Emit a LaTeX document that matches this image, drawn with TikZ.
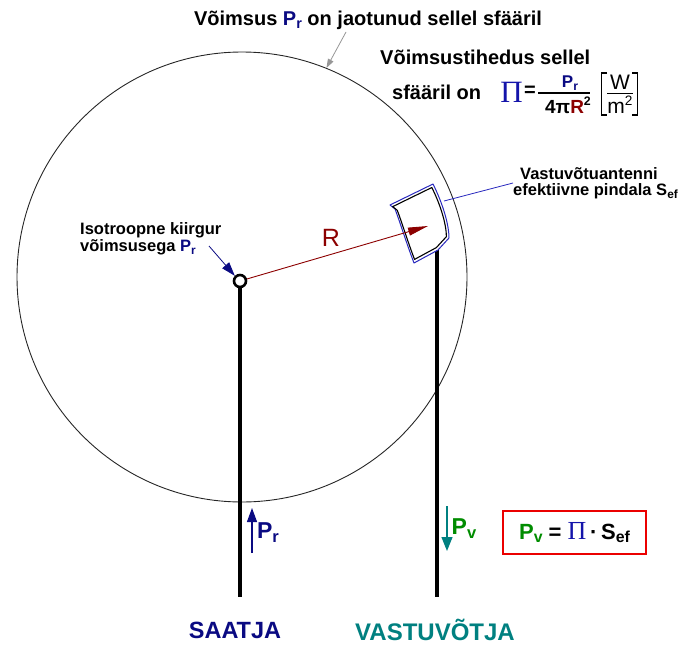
\documentclass[tikz,border=0pt]{standalone}
\usepackage{fontspec}
\usepackage{graphicx}
\setmainfont{Liberation Sans}
\newfontfamily\pifont{Liberation Serif}
\usetikzlibrary{arrows.meta}
\definecolor{navyc}{RGB}{10,10,130}
\definecolor{piblue}{RGB}{20,20,170}
\definecolor{darkredc}{RGB}{140,0,0}
\definecolor{tealc}{RGB}{0,128,128}
\definecolor{greenc}{RGB}{0,140,0}
\definecolor{redc}{RGB}{235,0,0}
\definecolor{greyc}{RGB}{150,150,150}
\definecolor{antblue}{RGB}{40,40,190}
\newcommand\lowix[1]{\raisebox{-0.32ex}{\scalebox{0.72}{#1}}}
\newcommand\highix[1]{\raisebox{0.75ex}{\scalebox{0.65}{#1}}}
\newcommand\fsz[1]{\fontsize{#1}{#1}\selectfont}
\begin{document}
\begin{tikzpicture}[x=1pt,y=-1pt,
  mastline/.style={line width=3.2pt},
  boldlbl/.style={font={\bfseries\fsz{16.5}}, inner sep=0, align=left},
  headtxt/.style={font={\bfseries\fsz{20}}, inner sep=0}
]
\useasboundingbox (0,0) rectangle (694,645);

% sphere
\node[draw=black!85, line width=0.9pt, circle, minimum size=450pt, inner sep=0] (sphere) at (242,277) {};

% title and grey arrow
\node[headtxt] (ttl) at (368,20) {Võimsus {\color{navyc}P\lowix{r}} on jaotunud sellel sfääril};
\coordinate (ttlA) at (346,32);
\draw[greyc, line width=0.8pt, -{Triangle[length=9pt,width=6pt]}] (ttlA) -- (sphere.68);

% receiver mast and antenna
\coordinate (rxtop) at (437,248);
\coordinate (rxbot) at (437,597);
\draw[mastline] (rxtop) -- (rxbot);
\draw[antblue, line width=1pt, line join=round, fill=white] (390,205) -- (433,184) .. controls (443,204) and (449,225) .. (449,238) -- (438,250) -- (414,263) .. controls (406,242) and (400,222) .. (395,209) -- cycle;
\begin{scope}[shift={(420,223)}, scale=0.91, shift={(-420,-223)}]
\draw[black, line width=1.1pt, line join=round] (390,205) -- (433,184) .. controls (443,204) and (449,225) .. (449,238) -- (438,250) -- (414,263) .. controls (406,242) and (400,222) .. (395,209) -- cycle;
\end{scope}

% antenna label
\coordinate (antR) at (444,201);
\node[boldlbl, anchor=west] (antlbl) at (513,183) {\hspace*{7pt}Vastuvõtuantenni\\efektiivne pindala S\lowix{ef}};
\draw[antblue, line width=0.8pt] (antR) -- (antlbl.west);

% transmitter
\coordinate (txbot) at (240,597);
\node[circle, draw, line width=2.6pt, minimum size=12pt, inner sep=0, fill=white] (tx) at (240,281) {};
\draw[mastline] (tx.south) -- (txbot);

% R arrow
\coordinate (rEnd) at (428,226);
\draw[darkredc, line width=0.9pt, -{Triangle[length=20pt,width=8pt]}] (tx) -- (rEnd);
\node[text=darkredc, font=\fsz{25}, inner sep=0] (Rl) at (331,238) {R};

% isotropic label
\node[boldlbl, anchor=west] (isolbl) at (80,239) {Isotroopne kiirgur\\võimsusega {\color{navyc}P\lowix{r}}};
\coordinate (isoA) at (209,246);
\draw[navyc, line width=0.8pt, -{Triangle[length=14pt,width=9pt]}] (isoA) -- (tx.135);

% power density formula
\node[headtxt, anchor=west] (dens1) at (380,57) {Võimsustihedus sellel};
\node[headtxt, anchor=west] (dens2) at (392,92) {sfääril on};
\node[inner sep=0, text=piblue, font={\pifont\fsz{31}}] (Pi1) at (511.5,92) {Π};
\node[headtxt] (eq1) at (530,91) {=};
\node[font={\bfseries\fsz{17}}, inner sep=0, text=navyc] (num) at (570,83) {P\lowix{r}};
\draw[line width=1.4pt] (538,93) -- (590,93);
\node[font={\bfseries\fsz{19}}, inner sep=0] (den) at (568,105.5) {4π{\color{darkredc}R}\highix{2}};
\node[font=\fsz{21}, inner sep=0] (Wn) at (620,82) {W};
\draw[line width=1.3pt] (607,93.5) -- (633,93.5);
\node[font=\fsz{21}, inner sep=0] (mden) at (620,104.5) {m\highix{2}};
\draw[line width=1.8pt] (607,73) -- (601.5,73) -- (601.5,115) -- (607,115);
\draw[line width=1.8pt] (632,73) -- (637.5,73) -- (637.5,115) -- (632,115);

% bottom arrows
\coordinate (prA) at (252,553);
\coordinate (prB) at (252,508);
\draw[navyc, line width=1.2pt, -{Triangle[length=14pt,width=10pt]}] (prA) -- (prB);
\node[font={\bfseries\fsz{23}}, text=navyc, inner sep=0] (prl) at (268,533) {P\lowix{r}};

\coordinate (pvA) at (447,506);
\coordinate (pvB) at (447,551);
\draw[tealc, line width=1.2pt, -{Triangle[length=14pt,width=11pt]}] (pvA) -- (pvB);
\node[font={\bfseries\fsz{23}}, text=greenc, inner sep=0] (pvl) at (464,529) {P\lowix{v}};

% red box
\node[draw=redc, line width=1.8pt, minimum width=143pt, minimum height=43pt, inner sep=0, font={\bfseries\fsz{22}}] (pvbox) at (574.5,532.5) {{\color{greenc}P\lowix{v}} = {\pifont\mdseries\color{piblue}\fsz{26}Π}\,·\,S\lowix{ef}};

% bottom labels
\node[font={\bfseries\fsz{23.5}}, text=navyc] (saatja) at (235,630) {SAATJA};
\node[font={\bfseries\fsz{24}}, text=tealc] (vastu) at (435,630) {VASTUVÕTJA};
\end{tikzpicture}
\end{document}
